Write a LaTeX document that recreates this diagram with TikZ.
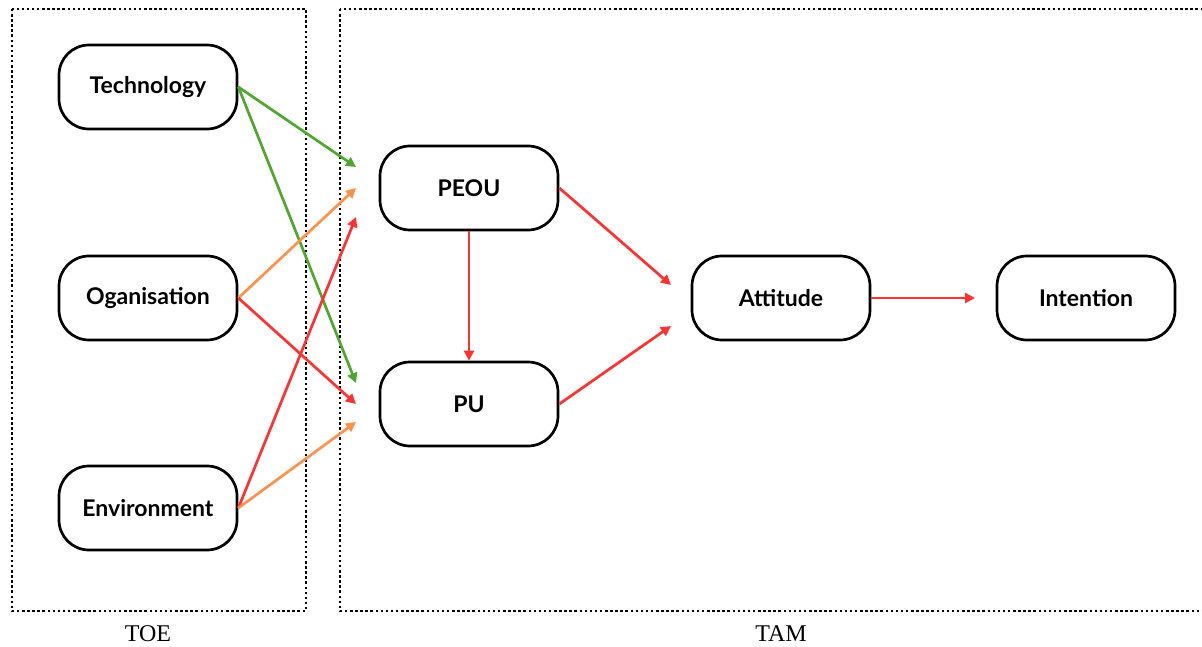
\documentclass[tikz,border=0pt]{standalone}
\usepackage{fontspec}
\setmainfont{Liberation Serif}
\newfontfamily\boxfont{Lato}
\usetikzlibrary{arrows.meta}
\definecolor{lgreen}{HTML}{4EA72E}
\definecolor{lorange}{HTML}{FF914D}
\definecolor{lred}{HTML}{FF3131}
\tikzset{
  box/.style={draw=black, line width=2.7pt, rounded corners=30pt, minimum width=178pt,
    minimum height=84pt, fill=white, font=\boxfont\bfseries\fontsize{23}{27}\selectfont},
  frame/.style={draw=black, line width=2.6pt, dash pattern=on 2.5pt off 2.6pt},
  link/.style={line width=2.7pt, -{Triangle[length=10pt,width=10pt]}},
  caption/.style={inner sep=0pt, font=\fontsize{24}{26}\selectfont}
}
\begin{document}
\begin{tikzpicture}[x=1pt,y=-1pt]
  \useasboundingbox (0,0) rectangle (1202,647);
  \clip (0,0) rectangle (1202,647);
  % framework frames
  \draw[frame] (12,9) rectangle (306,611);
  \draw[frame] (340,9) rectangle (1215,611);
  \node[caption] (toe) at (148,634) {TOE};
  \node[caption] (tam) at (781,634) {TAM};
  % constructs
  \node[box] (tech) at (148,87) {Technology};
  \node[box] (org) at (148,298) {Oganisation};
  \node[box] (env) at (148,508) {Environment};
  \node[box] (peou) at (469,188) {PEOU};
  \node[box] (pu) at (469,404) {PU};
  \node[box] (att) at (781,298) {Attitude};
  \node[box] (int) at (1086,298) {Intention};
  % arrow end points in front of PEOU, PU and Attitude
  \coordinate (pa) at (356,167);
  \coordinate (pb) at (356,188);
  \coordinate (pc) at (356,217);
  \coordinate (ua) at (356,383);
  \coordinate (ub) at (356,404);
  \coordinate (uc) at (356,422);
  \coordinate (aa) at (671,285);
  \coordinate (ab) at (671,326);
  \coordinate (ia) at (975,298);
  % TOE to TAM links
  \draw[link, lgreen] (tech.east) -- (pa);
  \draw[link, lgreen] (tech.east) -- (ua);
  \draw[link, lorange] (org.east) -- (pb);
  \draw[link, lred] (org.east) -- (ub);
  \draw[link, lred] (env.east) -- (pc);
  \draw[link, lorange] (env.east) -- (uc);
  % TAM links
  \draw[link, lred] (peou.south) -- (pu.north);
  \draw[link, lred] (peou.east) -- (aa);
  \draw[link, lred] (pu.east) -- (ab);
  \draw[link, lred] (att.east) -- (ia);
\end{tikzpicture}
\end{document}
